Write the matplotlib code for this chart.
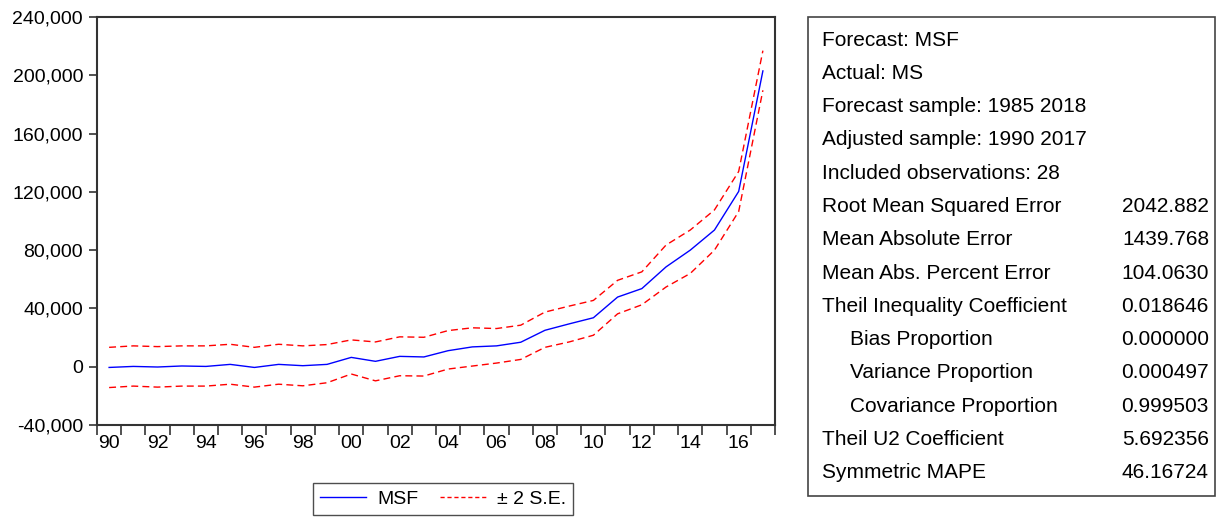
import numpy as np
import matplotlib.pyplot as plt
from matplotlib.patches import Rectangle
from matplotlib.lines import Line2D
from matplotlib.ticker import FuncFormatter

plt.rcParams['font.family'] = ['Liberation Sans', 'DejaVu Sans']

#forecast series and +/- 2 standard error bands
years = np.arange(1990, 2018)
msf = [-500, 200, -200, 500, 200, 1600, -500, 1600, 700, 1600,
       6400, 3700, 7100, 6700, 11000, 13600, 14300, 16800, 25000, 29400,
       33600, 47800, 53600, 68500, 80000, 93800, 120300, 203000]
upper = [13300, 14300, 13800, 14300, 14300, 15400, 13300, 15400, 14300, 15200,
         18400, 17000, 20500, 20200, 24800, 26700, 26200, 28500, 37500, 41600,
         45500, 59300, 65100, 83500, 93800, 107600, 134000, 216900]
lower = [-14300, -13300, -14000, -13300, -13300, -12000, -14000, -12000, -13100, -11000,
         -5000, -9700, -6200, -6400, -1600, 460, 2500, 5000, 13300, 17000,
         21600, 36300, 42500, 54700, 64000, 80000, 106500, 189700]

#forecast evaluation statistics
stat_names = ['Forecast: MSF', 'Actual: MS', 'Forecast sample: 1985 2018',
              'Adjusted sample: 1990 2017', 'Included observations: 28',
              'Root Mean Squared Error', 'Mean Absolute Error',
              'Mean Abs. Percent Error', 'Theil Inequality Coefficient',
              'Bias Proportion', 'Variance Proportion', 'Covariance Proportion',
              'Theil U2 Coefficient', 'Symmetric MAPE']
stat_values = ['', '', '', '', '', '2042.882', '1439.768', '104.0630', '0.018646',
               '0.000000', '0.000497', '0.999503', '5.692356', '46.16724']
indented = ['Bias Proportion', 'Variance Proportion', 'Covariance Proportion']

fig = plt.figure(figsize=(12.27, 5.19), dpi=100)
ax = fig.add_axes([97/1227, 1-425/519, 678/1227, 408/519])

ax.plot(years, msf, color='#0000ff', lw=1.0)
ax.plot(years, upper, color='#ff0000', lw=1.0, dashes=(5, 3))
ax.plot(years, lower, color='#ff0000', lw=1.0, dashes=(5, 3))

ax.set_xlim(1989.5, 2017.5)
ax.set_ylim(-40000, 240000)
ax.set_yticks(np.arange(-40000, 240001, 40000))
ax.yaxis.set_major_formatter(FuncFormatter(lambda v, p: '{:,.0f}'.format(v)))
ax.set_xticks(np.arange(1990, 2017, 2))
ax.set_xticklabels(['%02d' % (y % 100) for y in range(1990, 2017, 2)])
ax.set_xticks(np.arange(1989.5, 2018, 1), minor=True)
ax.tick_params(axis='x', which='major', length=0, pad=7, labelsize=14)
ax.tick_params(axis='x', which='minor', length=7, width=1.2, color='#333333')
ax.tick_params(axis='y', length=6, width=1.2, color='#333333', labelsize=14, pad=4)
for s in ax.spines.values():
    s.set_color('#333333')
    s.set_linewidth(1.5)

#legend below the plot
handles = [Line2D([], [], color='#0000ff', lw=1.0),
           Line2D([], [], color='#ff0000', lw=1.0, dashes=(3, 2))]
leg = fig.legend(handles, ['MSF', '\u00b1 2 S.E.'], loc='center',
                 bbox_to_anchor=(443/1227, 1-499/519), ncol=2, frameon=True,
                 fancybox=False, shadow=False, fontsize=14, handlelength=2.4,
                 columnspacing=1.1, borderpad=0.35, handletextpad=0.55,
                 borderaxespad=0)
leg.get_frame().set_edgecolor('#222222')
leg.get_frame().set_linewidth(1.0)

#statistics box
fig.add_artist(Rectangle((808/1227, 1-496/519), 407/1227, 479/519,
                         transform=fig.transFigure, fill=False,
                         edgecolor='#444444', lw=1.2))
for i in range(len(stat_names)):
    y = 1 - (40 + i*33.3)/519
    x = 850 if stat_names[i] in indented else 822
    fig.text(x/1227, y, stat_names[i], fontsize=15, va='center', ha='left')
    if stat_values[i]:
        fig.text(1209/1227, y, stat_values[i], fontsize=15, va='center', ha='right')

plt.savefig('out.png', dpi=100)
